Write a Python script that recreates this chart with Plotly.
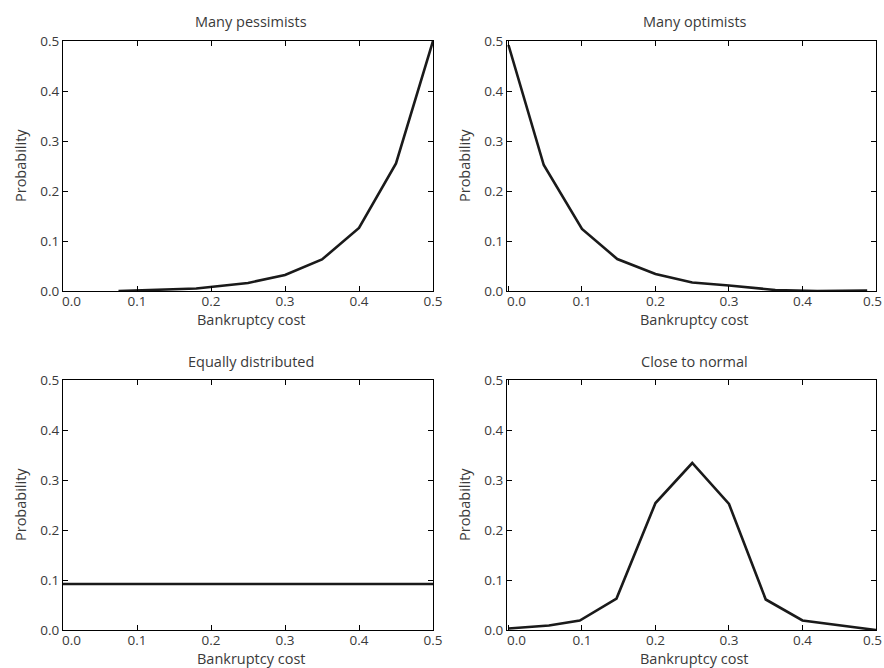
import plotly.graph_objects as go
from plotly.subplots import make_subplots

# Data
pess_x = [0.075, 0.1, 0.18, 0.25, 0.3, 0.35, 0.4, 0.45, 0.5]
pess_y = [0.0, 0.001, 0.005, 0.016, 0.032, 0.063, 0.126, 0.255, 0.5]

opt_x = [0.0, 0.048, 0.1, 0.148, 0.2, 0.25, 0.3, 0.363, 0.42, 0.488]
opt_y = [0.492, 0.252, 0.124, 0.064, 0.034, 0.017, 0.011, 0.002, 0.0, 0.001]

eq_x = [0.0, 0.1, 0.2, 0.3, 0.4, 0.5]
eq_y = [0.092, 0.092, 0.092, 0.092, 0.092, 0.092]

norm_x = [0.0, 0.055, 0.097, 0.147, 0.2, 0.25, 0.3, 0.35, 0.4, 0.5]
norm_y = [0.003, 0.009, 0.019, 0.063, 0.254, 0.334, 0.252, 0.061, 0.019, 0.0]

titles = ["Many pessimists", "Many optimists", "Equally distributed", "Close to normal"]
x_label = "Bankruptcy cost"
y_label = "Probability"
tick_vals = [0.0, 0.1, 0.2, 0.3, 0.4, 0.5]
x_tick_text_left = ["", "0.1", "0.2", "0.3", "0.4", "0.5"]
x_tick_text_right = ["", "0.1", "0.2", "0.3", "0.4", ""]
y_tick_text = ["0.0", "0.1", "0.2", "0.3", "0.4", "0.5"]
first_x_label = "0.0"
last_x_label = "0.5"

W, H = 884, 668
FONT = "Open Sans"
TXT = "#3a3a3a"
LINE = "#1a1a1a"
FS_TICK = 13.5
FS_TXT = 14.5


def px(xw):
    return xw / W


def py(yw):
    return 1 - yw / H


fig = make_subplots(rows=2, cols=2)

series = [(pess_x, pess_y, 1, 1), (opt_x, opt_y, 1, 2), (eq_x, eq_y, 2, 1), (norm_x, norm_y, 2, 2)]
for xs, ys, r, c in series:
    fig.add_trace(go.Scatter(x=xs, y=ys, mode="lines",
                             line=dict(color=LINE, width=2.6), showlegend=False), row=r, col=c)

# pixel boxes (left, right, top, bottom)
boxes = [(63, 433, 41, 291), (507, 876, 41, 291), (63, 433, 380, 630), (507, 876, 380, 630)]
xranges = [[0, 0.5], [-0.002, 0.5], [0, 0.5], [-0.002, 0.5]]

for i, (l, r, t, b) in enumerate(boxes):
    ax = "" if i == 0 else str(i + 1)
    right_col = i % 2 == 1
    fig.layout["xaxis" + ax].update(
        domain=[px(l), px(r)], range=xranges[i], tickvals=tick_vals,
        ticktext=x_tick_text_right if right_col else x_tick_text_left,
        ticks="inside", ticklen=5, tickcolor="black", tickwidth=1, ticklabelstandoff=-2,
        showline=True, linecolor="black", linewidth=1, mirror="allticks",
        showgrid=False, zeroline=False, automargin=False,
        tickfont=dict(family=FONT, size=FS_TICK, color=TXT))
    fig.layout["yaxis" + ax].update(
        domain=[py(b), py(t)], range=[0, 0.5], tickvals=tick_vals, ticktext=y_tick_text,
        ticks="inside", ticklen=5, tickcolor="black", tickwidth=1,
        showline=True, linecolor="black", linewidth=1, mirror="allticks",
        showgrid=False, zeroline=False, automargin=False,
        tickfont=dict(family=FONT, size=FS_TICK, color=TXT))
    cx = (l + r) / 2 + 3
    fig.add_annotation(text=titles[i], x=px(cx), y=py(t - 19), xref="paper", yref="paper",
                       showarrow=False, font=dict(family=FONT, size=FS_TXT, color=TXT),
                       xanchor="center", yanchor="middle")
    fig.add_annotation(text=x_label, x=px(cx), y=py(b + 28), xref="paper", yref="paper",
                       showarrow=False, font=dict(family=FONT, size=FS_TXT, color=TXT),
                       xanchor="center", yanchor="middle")
    fig.add_annotation(text=y_label, x=px(l - 43), y=py((t + b) / 2), xref="paper", yref="paper",
                       showarrow=False, textangle=-90, font=dict(family=FONT, size=FS_TXT, color=TXT),
                       xanchor="center", yanchor="middle")
    # first x tick label, kept inside the frame as in the reference
    fig.add_annotation(text=first_x_label, x=0, xref="x" + ax, y=py(b + 10), yref="paper",
                       showarrow=False, font=dict(family=FONT, size=FS_TICK, color=TXT),
                       xanchor="left", yanchor="middle", xshift=-3)
    if right_col:
        # last x tick label at the right page edge
        fig.add_annotation(text=last_x_label, x=1, xref="paper", y=py(b + 10), yref="paper",
                           showarrow=False, font=dict(family=FONT, size=FS_TICK, color=TXT),
                           xanchor="right", yanchor="middle")

fig.update_layout(width=W, height=H, margin=dict(l=0, r=0, t=0, b=0, autoexpand=False),
                  plot_bgcolor="white", paper_bgcolor="white",
                  font=dict(family=FONT, color=TXT))

fig.write_html("out.html")
